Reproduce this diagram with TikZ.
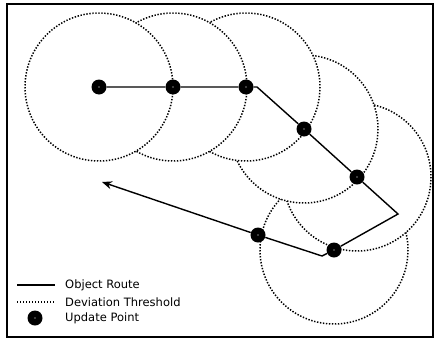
\documentclass[tikz,border=0pt]{standalone}
\usepackage{fontspec}
\setmainfont{DejaVu Sans}
\usetikzlibrary{arrows.meta,backgrounds}

\tikzset{
  route/.style={line width=1.4pt},
  threshold/.style={line width=1.5pt, dash pattern=on 1.4pt off 1.6pt},
  update/.style={circle, fill=black, inner sep=0pt, minimum size=15pt,
    path picture={\fill[white] (path picture bounding box.center) circle (0.6pt);}},
  legendtext/.style={anchor=west, inner sep=0pt, font=\fontsize{11.5}{13}\selectfont}
}

\begin{document}
\begin{tikzpicture}[x=1pt,y=1pt,yscale=-1,xscale=1]
\useasboundingbox (0,0) rectangle (435,340);

%Frame
\draw [line width=1.5pt] (7,4) rectangle (433,337);

%Update points
\node [update] (u1) at (99,87) {};
\node [update] (u2) at (173,87) {};
\node [update] (u3) at (246,87) {};
\node [update] (u4) at (304,129) {};
\node [update] (u5) at (357,177) {};
\node [update] (u6) at (334,250) {};
\node [update] (u7) at (258,235) {};

%Route corners
\coordinate (c1) at (257,87);
\coordinate (c2) at (398,214);
\coordinate (c3) at (322,256);
\coordinate (head) at (102,182);

\begin{pgfonlayer}{background}
%Deviation circles, older ones on top
\foreach \p in {u6,u5,u4,u3,u2,u1}
  \draw [threshold,fill=white] (\p) circle [radius=74pt];
%Route
\draw [route] (u1) -- (u2) -- (u3) -- (c1) -- (u4) -- (u5) -- (c2) -- (u6) -- (c3) -- (u7);
\draw [route,-{Stealth[length=10pt,width=8pt]}] (u7) -- (head);
\end{pgfonlayer}

%Legend
\coordinate (l1a) at (17,285);
\coordinate (l1b) at (55,285);
\coordinate (l2a) at (17,302);
\coordinate (l2b) at (55,302);
\draw [route] (l1a) -- (l1b);
\draw [threshold] (l2a) -- (l2b);
\node [update] (lp) at (35,318) {};
\node [legendtext] (t1) at (65,285) {Object Route};
\node [legendtext] (t2) at (65,302) {Deviation Threshold};
\node [legendtext] (t3) at (65,318) {Update Point};

\end{tikzpicture}
\end{document}
